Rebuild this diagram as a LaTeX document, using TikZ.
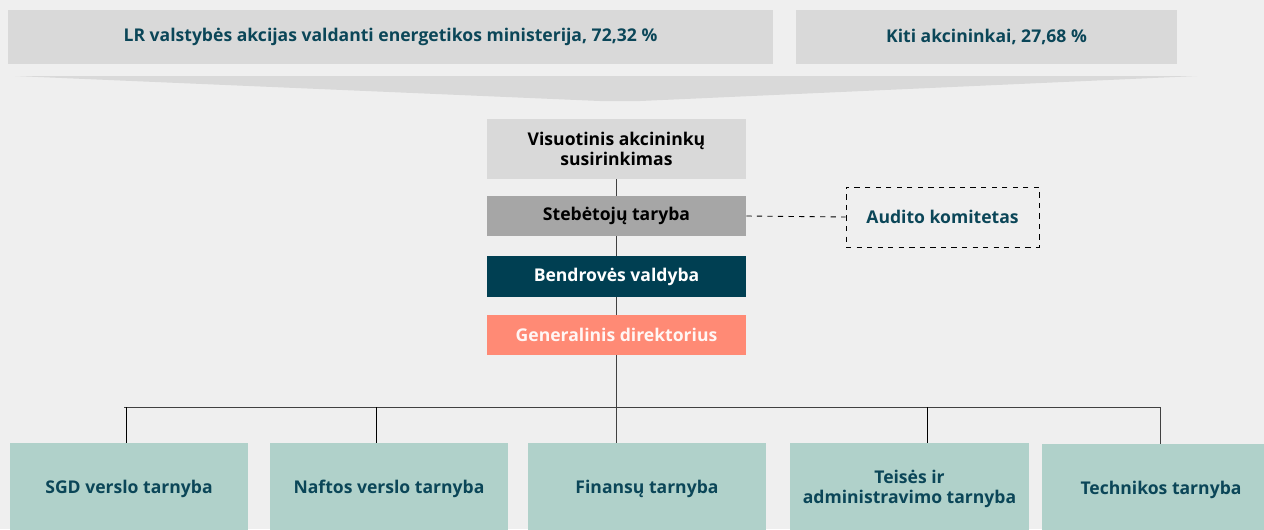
\documentclass[tikz,border=0pt]{standalone}
\usepackage{fontspec}
\setmainfont{Open Sans}
\usepackage{xcolor}
\usetikzlibrary{positioning,calc}

\definecolor{bgc}{HTML}{EFEFEF}
\definecolor{hellgrau}{HTML}{D9D9D9}
\definecolor{mittelgrau}{HTML}{A6A6A6}
\definecolor{petrol}{HTML}{003F52}
\definecolor{textpetrol}{HTML}{0B4658}
\definecolor{lachs}{HTML}{FF8A75}
\definecolor{mint}{HTML}{B0D1CA}
\definecolor{linie}{HTML}{404040}

\tikzset{
  box/.style={rectangle, inner sep=2pt, align=center, font=\fontsize{10}{11.4}\selectfont\bfseries},
  aktionaer/.style={box, fill=hellgrau, text=textpetrol, minimum height=1.08cm},
  organ/.style={box, minimum width=5.18cm, minimum height=0.8cm},
  abteilung/.style={box, fill=mint, text=textpetrol, minimum width=4.76cm, minimum height=1.84cm},
  verbindung/.style={draw=linie, line width=0.55pt},
}

\begin{document}
\begin{tikzpicture}[x=0.02cm, y=-0.02cm]
        % Umgebung
        \fill[bgc] (0,0) rectangle (1264,529);
        \useasboundingbox (0,0) rectangle (1264,529);
        \clip (0,0) rectangle (1264,529);

        % Aktionaere
        \node[aktionaer, minimum width=15.3cm] (lr) at (390.5, 37) {LR valstybės akcijas valdanti energetikos ministerija, 72,32 \%};
        \node[aktionaer, minimum width=7.62cm] (kiti) at (986.5, 37) {Kiti akcininkai, 27,68 \%};

        % Trichter
        \fill[hellgrau] (15,76) -- (1197,76) -- (640,101) -- (600,101) -- cycle;

        % Organe
        \node[organ, fill=hellgrau, minimum height=1.2cm] (vas) at (616.5, 149) {Visuotinis akcininkų\\susirinkimas};
        \node[organ, fill=mittelgrau] (st) at (616.5, 216) {Stebėtojų taryba};
        \node[organ, fill=petrol, text=white, minimum height=0.82cm] (bv) at (616.5, 276.5) {Bendrovės valdyba};
        \node[organ, fill=lachs, text=white!92!lachs] (gd) at (616.5, 335) {Generalinis direktorius};
        \node[box, draw=black, dashed, text=textpetrol, minimum width=3.86cm, minimum height=1.2cm] (ak) at (942.5, 217) {Audito komitetas};

        % Tarnybos
        \node[abteilung] (sgd) at (129, 489) {SGD verslo tarnyba};
        \node[abteilung] (nvt) at (389, 489) {Naftos verslo tarnyba};
        \node[abteilung] (fin) at (647, 489) {Finansų tarnyba};
        \node[abteilung, minimum width=4.78cm] (tat) at (909.5, 489) {Teisės ir\\administravimo tarnyba};
        \node[abteilung] (tech) at (1161, 490) {Technikos tarnyba};

        % Verbindungen
        \draw[verbindung] (vas) -- (st);
        \draw[verbindung] (st) -- (bv);
        \draw[verbindung] (bv) -- (gd);
        \draw[verbindung] (gd.south) -- (gd.south |- fin.north);
        \draw[black, dashed, line width=0.5pt] (st.east) -- (ak.west);

        % Verteiler
        \coordinate (b1) at (124, 407);
        \coordinate (b2) at (1160, 407);
        \draw[verbindung] (b1) -- (b2);
        \coordinate (d1) at (126, 407);
        \coordinate (d2) at (376, 407);
        \coordinate (d4) at (927, 407);
        \draw[black, line width=0.5pt] (d1) -- (d1 |- sgd.north);
        \draw[black, line width=0.5pt] (d2) -- (d2 |- nvt.north);
        \draw[black, line width=0.5pt] (d4) -- (d4 |- tat.north);
        \draw[verbindung] (b2) -- (b2 |- tech.north);

    \end{tikzpicture}
\end{document}
